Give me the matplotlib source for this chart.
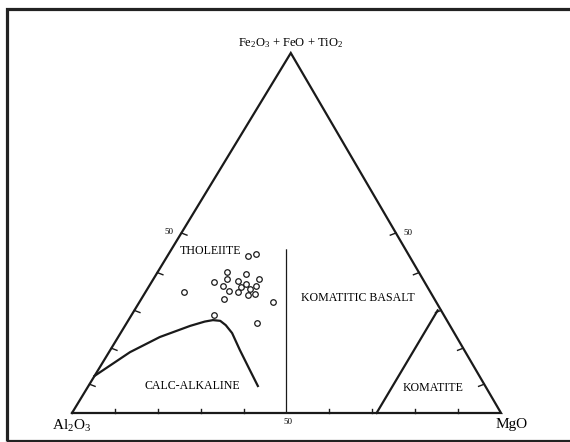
import numpy as np
import matplotlib
matplotlib.use("Agg")
import matplotlib.pyplot as plt
from matplotlib.patches import Rectangle

plt.rcParams['font.family'] = ['Liberation Serif', 'DejaVu Serif']
plt.rcParams['mathtext.fontset'] = 'custom'
plt.rcParams['mathtext.rm'] = 'Liberation Serif'
plt.rcParams['mathtext.it'] = 'Liberation Serif:italic'

# sample compositions (Al2O3, Fe2O3+FeO+TiO2, MgO) in cation %
al = [37.6, 35.4, 44.7, 40.5, 49.0, 45.7, 43.3, 38.2, 47.6, 43.5, 41.8,
      41.5, 39.9, 46.7, 44.9, 43.0, 41.2, 57.3, 49.0, 38.1, 53.5, 44.7]
fe = [43.7, 44.2, 39.3, 38.7, 36.5, 37.2, 36.8, 37.3, 35.3, 34.9, 35.8,
      34.5, 35.3, 34.0, 33.5, 32.8, 33.0, 33.7, 31.8, 30.8, 27.3, 24.9]
mg = [18.7, 20.4, 16.0, 20.8, 14.5, 17.1, 19.9, 24.5, 17.1, 21.6, 22.4,
      24.0, 24.8, 19.3, 21.6, 24.2, 25.8, 9.0, 19.2, 31.1, 19.2, 30.4]

# calc-alkaline / tholeiite boundary
ca_fe = [10.3, 16.9, 21.1, 24.2, 25.4, 25.8, 25.6, 24.4, 22.2, 17.5, 11.9, 7.5]
ca_mg = [0.0, 4.9, 9.7, 15.2, 18.0, 19.7, 21.5, 23.4, 26.0, 30.2, 35.4, 39.5]

# tholeiite / komatiitic basalt divide, komatiitic basalt / komatiite divide
th_fe = [0.0, 45.3]
th_mg = [50.0, 26.9]
ko_fe = [0.0, 28.5]
ko_mg = [71.0, 70.7]

side_ticks = [8, 18, 28.5, 39, 50]
base_ticks = [10, 20, 30, 40, 60, 70, 80, 90]

SKEW = 0.51  # apex sits a little right of the base midpoint


def to_xy(fe_v, mg_v):
    fe_v = np.asarray(fe_v, float)
    mg_v = np.asarray(mg_v, float)
    return mg_v + SKEW * fe_v, fe_v


fig = plt.figure(figsize=(5.7, 4.42), dpi=100)
ax = fig.add_axes([0, 0, 1, 1])
ax.set_xlim(-72 / 4.29, (570 - 72) / 4.29)
ax.set_ylim(-(442 - 413) / 3.6, 413 / 3.6)
ax.axis('off')

# outer frame
fig.patches.append(Rectangle((6.5 / 570, 1.2 / 442), 1.1, (442 - 9 - 1.2) / 442,
                             transform=fig.transFigure, fill=False,
                             lw=2.3, ec='#222222'))

# triangle
tx, ty = to_xy([0, 0, 100, 0], [0, 100, 0, 0])
ax.plot(tx, ty, color='#1a1a1a', lw=1.6, solid_joinstyle='miter')

# ticks on the base (pointing up)
for t in base_ticks:
    ax.plot([t, t], [0, 1.2], color='#1a1a1a', lw=1.0)

# ticks on the two sides (pointing inward)
for t in side_ticks:
    lx, ly = to_xy(t, 0)
    ax.plot([lx, lx + 1.3], [ly, ly - 0.6], color='#1a1a1a', lw=1.0)
    rx, ry = to_xy(t, 100 - t)
    ax.plot([rx, rx - 1.3], [ry, ry - 0.6], color='#1a1a1a', lw=1.0)

# field boundaries
x, y = to_xy(ca_fe, ca_mg)
ax.plot(x, y, color='#1a1a1a', lw=1.6, solid_joinstyle='round')
x, y = to_xy(th_fe, th_mg)
ax.plot(x, y, color='#1a1a1a', lw=0.9)
x, y = to_xy(ko_fe, ko_mg)
ax.plot(x, y, color='#1a1a1a', lw=1.6)

# samples
x, y = to_xy(fe, mg)
ax.plot(x, y, 'o', ms=4, mfc='white', mec='#1a1a1a', mew=0.9)

# apex labels
ax.text(51.0, 102.8, 'Fe$_2$O$_3$ + FeO + TiO$_2$', ha='center', va='center', fontsize=9)
ax.text(0, -1.5, 'Al$_2$O$_3$', ha='center', va='top', fontsize=11)
ax.text(102.4, -1.3, 'MgO', ha='center', va='top', fontsize=11)

# scale labels
ax.text(50.3, -2.4, '50', ha='center', va='center', fontsize=6.5)
ax.text(22.5, 50.4, '50', ha='center', va='center', fontsize=6.5)
ax.text(78.3, 50.0, '50', ha='center', va='center', fontsize=6.5)

# field names
ax.text(32.4, 45.0, 'THOLEIITE', ha='center', va='center', fontsize=8.6)
ax.text(66.7, 31.9, 'KOMATITIC BASALT', ha='center', va='center', fontsize=8.6)
ax.text(28.0, 7.5, 'CALC-ALKALINE', ha='center', va='center', fontsize=8.6)
ax.text(84.1, 6.9, 'KOMATITE', ha='center', va='center', fontsize=8.6)

fig.savefig('out.png', dpi=100)
